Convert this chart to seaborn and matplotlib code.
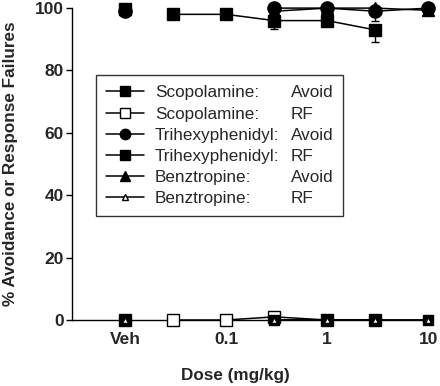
import matplotlib
matplotlib.use("Agg")
import matplotlib.pyplot as plt
import numpy as np
import seaborn as sns
from matplotlib.lines import Line2D

# Vehicle is drawn at the 0.01 position on the log dose axis
VEH = 0.01

scop_doses = [0.03, 0.1, 0.3, 1, 3]
scop_avoid = [98, 98, 96, 96, 93]
scop_avoid_err = [1.0, 0.0, 2.7, 1.5, 4.0]
scop_avoid_veh = 99.6
scop_rf = [0, 0, 1, 0, 0]
scop_rf_veh = 0

trihex_doses = [0.3, 1, 3, 10]
trihex_avoid = [100, 100, 99, 100]
trihex_avoid_veh = 99.0
trihex_rf = [0, 0, 0, 0]
trihex_rf_veh = 0

benz_doses = [0.3, 1, 3, 10]
benz_avoid = [99, 100, 100, 99.3]
benz_avoid_err = [0.0, 0.0, 4.0, 0.0]
benz_avoid_veh = 99.8
benz_rf = [0, 0, 0, 0]
benz_rf_veh = 0

xtick_pos = [VEH, 0.1, 1, 10]
xtick_labels = ["Veh", "0.1", "1", "10"]
yticks = [0, 20, 40, 60, 80, 100]

legend_names = ["Scopolamine:", "Scopolamine:", "Trihexyphenidyl:",
                "Trihexyphenidyl:", "Benztropine:", "Benztropine:"]
legend_kinds = ["Avoid", "RF", "Avoid", "RF", "Avoid", "RF"]

sns.set_theme(style="ticks")
plt.rcParams["font.family"] = ["Liberation Sans", "DejaVu Sans"]

fig = plt.figure(figsize=(4.4, 3.86), dpi=100)
ax = fig.add_axes([0.1636, 0.171, 0.814, 0.808])


def series(doses, vals, veh, marker, ms, face, z):
    kw = dict(color="black", marker=marker, markersize=ms, markerfacecolor=face,
              markeredgecolor="black", markeredgewidth=1.0, linewidth=1.1,
              ax=ax, legend=False, zorder=z, clip_on=False)
    sns.lineplot(x=doses, y=vals, **kw)
    sns.lineplot(x=[VEH], y=[veh], **kw)


def errs(doses, vals, err):
    ax.errorbar(doses, vals, yerr=[err, np.zeros(len(err))], fmt="none",
                ecolor="black", elinewidth=1.0, capsize=3, capthick=1.0,
                zorder=2, clip_on=False)


errs(scop_doses, scop_avoid, scop_avoid_err)
errs(benz_doses, benz_avoid, benz_avoid_err)

series(scop_doses, scop_avoid, scop_avoid_veh, "s", 8, "black", 3)
series(benz_doses, benz_avoid, benz_avoid_veh, "^", 9, "black", 3)
series(trihex_doses, trihex_avoid, trihex_avoid_veh, "o", 9.5, "black", 4)
series(scop_doses, scop_rf, scop_rf_veh, "s", 8, "white", 3)
series(trihex_doses, trihex_rf, trihex_rf_veh, "s", 7.5, "black", 4)
series(benz_doses, benz_rf, benz_rf_veh, "^", 5, "white", 5)

ax.set_xscale("log")
ax.set_xlim(10 ** -2.525, 10 ** 1.02)
ax.set_ylim(0, 100)
ax.set_xticks(xtick_pos)
ax.set_xticklabels(xtick_labels)
ax.minorticks_off()
ax.set_yticks(yticks)
ax.tick_params(axis="x", length=0, pad=9, labelsize=12.5)
ax.tick_params(axis="y", length=4, width=1, pad=2, labelsize=12.5, color="black")
for lab in ax.get_xticklabels() + ax.get_yticklabels():
    lab.set_fontweight("bold")

sns.despine(ax=ax)
for s in ("left", "bottom"):
    ax.spines[s].set_color("black")
    ax.spines[s].set_linewidth(1.0)

ax.set_xlabel("Dose (mg/kg)", fontsize=12.3, fontweight="bold")
ax.set_ylabel("% Avoidance or Response Failures", fontsize=12.3, fontweight="bold")
ax.xaxis.set_label_coords(0.455, -0.153)
ax.yaxis.set_label_coords(-0.152, 0.5)

# legend: marker column + drug name column + measure column
styles = [("s", 6.5, "black"), ("s", 6.5, "white"), ("o", 7.5, "black"),
          ("s", 6.5, "black"), ("^", 7.5, "black"), ("^", 4.5, "white")]
handles = [Line2D([], [], color="black", lw=1.1, marker=m, markersize=ms,
                  markerfacecolor=fc, markeredgecolor="black")
           for m, ms, fc in styles]
blank = [Line2D([], [], linestyle="none", marker="none") for _ in styles]
leg = ax.legend(handles + blank, legend_names + legend_kinds, ncol=2,
                loc="upper left", bbox_to_anchor=(0.067, 0.785), borderaxespad=0,
                fontsize=12.3, frameon=True, fancybox=False, framealpha=1,
                edgecolor="#333333", handlelength=2.2, handletextpad=0.65,
                columnspacing=-2.2, labelspacing=0.36, borderpad=0.6)
leg.get_frame().set_linewidth(1.0)

fig.savefig("out.png", dpi=100, facecolor="white")
